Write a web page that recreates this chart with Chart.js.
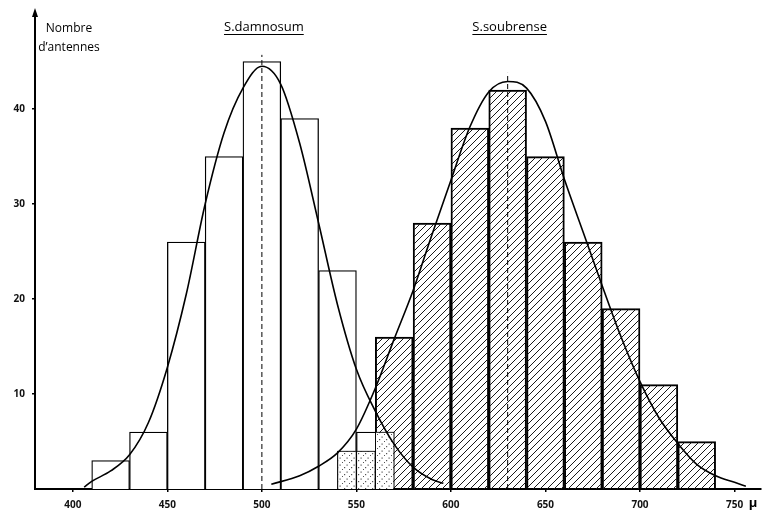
<!DOCTYPE html>
<html>
<head>
<meta charset="utf-8">
<script src="https://cdn.jsdelivr.net/npm/chart.js@4.4.1/dist/chart.umd.min.js"></script>
<style>
  html, body { margin: 0; padding: 0; background: #fff; }
  #zone { width: 767px; height: 515px; }
</style>
</head>
<body>
<div id="zone"><canvas id="histo"></canvas></div>
<script>
/* Longueur des antennes : S.damnosum et S.soubrense */
const damnosumCentres = [420, 440, 460, 480, 500, 520, 540, 560];
const damnosumEffectifs = [3, 6, 26, 35, 45, 39, 23, 6];
const soubrenseCentres = [550, 570, 590, 610, 630, 650, 670, 690, 710, 730];
const soubrenseEffectifs = [4, 16, 28, 38, 42, 35, 26, 19, 11, 5];
const largeurClasse = 20;

// courbes ajustées (lues point par point)
const courbeDamnosumX = [406, 410, 420, 430, 440, 450, 460, 470, 480, 490, 500, 510, 520, 530, 540, 550, 560, 570, 580, 590, 596];
const courbeDamnosumY = [0.2, 0.8, 1.9, 3.6, 7.0, 12.8, 20.5, 30.0, 37.5, 42.2, 44.5, 42.6, 36.4, 28.0, 19.4, 12.6, 8.2, 4.7, 2.3, 1.0, 0.6];
const courbeSoubrenseX = [505, 520, 530, 540, 550, 560, 570, 580, 590, 600, 610, 620, 630, 640, 650, 660, 670, 680, 690, 700, 710, 720, 730, 740, 750, 756];
const courbeSoubrenseY = [0.5, 1.4, 2.4, 3.8, 6.3, 10.6, 15.8, 20.9, 26.8, 32.5, 38.1, 41.8, 42.9, 42.2, 38.7, 32.6, 27.0, 21.4, 16.0, 11.3, 7.5, 4.8, 2.6, 1.4, 0.7, 0.3];

// moyennes (pointillés)
const moyennes = [500, 630];
const hauteursMoyennes = [45.7, 43.8];
const titres = ['S.damnosum', 'S.soubrense'];

const xGraduations = [400, 450, 500, 550, 600, 650, 700, 750];
const yGraduations = [10, 20, 30, 40];

function effectifEn(centres, effectifs, x) {
    const i = centres.findIndex(c => Math.abs(x - c) < largeurClasse / 2);
    return i < 0 ? 0 : effectifs[i];
}

// partie commune des deux histogrammes, par demi-classes
const communCentres = [];
const communEffectifs = [];
soubrenseCentres.forEach(c => {
    [c - largeurClasse / 4, c + largeurClasse / 4].forEach(x => {
        const n = Math.min(effectifEn(soubrenseCentres, soubrenseEffectifs, x),
                           effectifEn(damnosumCentres, damnosumEffectifs, x));
        if (n > 0) { communCentres.push(x); communEffectifs.push(n); }
    });
});

function points(xs, ys) {
    return xs.map((x, i) => ({ x: x, y: ys[i] }));
}

function motifHachures() {
    const c = document.createElement('canvas');
    c.width = 7; c.height = 7;
    const g = c.getContext('2d');
    g.strokeStyle = '#1a1a1a';
    g.lineWidth = 1;
    g.beginPath();
    g.moveTo(-1, 8); g.lineTo(8, -1);
    g.moveTo(-2, 2); g.lineTo(2, -2);
    g.moveTo(5, 9); g.lineTo(9, 5);
    g.stroke();
    return g.createPattern(c, 'repeat');
}

function motifPointille() {
    const c = document.createElement('canvas');
    c.width = 7; c.height = 7;
    const g = c.getContext('2d');
    g.fillStyle = '#fff';
    g.fillRect(0, 0, 7, 7);
    g.fillStyle = '#555';
    g.fillRect(1, 5, 1.2, 1.2);
    g.fillRect(3.5, 2.5, 1.2, 1.2);
    g.fillRect(6, 0, 1, 1);
    return g.createPattern(c, 'repeat');
}

const axeCache = {
    type: 'linear', min: 380, max: 764, display: false, offset: false,
    afterBuildTicks: axe => { axe.ticks = xGraduations.map(v => ({ value: v })); }
};

const policeGrad = { family: 'Open Sans', size: 10, weight: 'bold' };

const habillage = {
    id: 'habillage',
    afterDraw(chart) {
        const ctx = chart.ctx;
        const { left, top } = chart.chartArea;
        const sx = chart.scales.x;
        ctx.save();
        ctx.fillStyle = '#000';
        ctx.strokeStyle = '#000';

        // flèche de l'axe vertical
        ctx.beginPath();
        ctx.moveTo(left, top - 6);
        ctx.lineTo(left - 3, top + 3);
        ctx.lineTo(left + 3, top + 3);
        ctx.closePath();
        ctx.fill();

        ctx.font = '12px "Open Sans"';
        ctx.textAlign = 'center';
        ctx.textBaseline = 'alphabetic';
        ctx.fillText('Nombre', 69, 32);
        ctx.fillText('d\u2019antennes', 69, 51);

        // titres soulignés
        ctx.font = '13px "Open Sans"';
        ctx.lineWidth = 1;
        titres.forEach((t, i) => {
            const cx = sx.getPixelForValue(moyennes[i]) + 2;
            ctx.fillText(t, cx, 31);
            const w = ctx.measureText(t).width;
            ctx.beginPath();
            ctx.moveTo(cx - w / 2, 34.5);
            ctx.lineTo(cx + w / 2, 34.5);
            ctx.stroke();
        });

        ctx.font = 'bold 13px "Open Sans"';
        ctx.fillText('\u03bc', 753, 507);
        ctx.restore();
    }
};

new Chart(document.getElementById('histo').getContext('2d'), {
    type: 'bar',
    data: {
        datasets: [{
            label: 'S.damnosum',
            data: points(damnosumCentres, damnosumEffectifs),
            xAxisID: 'x',
            backgroundColor: '#fff',
            borderColor: '#000',
            borderWidth: 1.3,
            order: 5
        }, {
            label: 'S.soubrense',
            data: points(soubrenseCentres, soubrenseEffectifs),
            xAxisID: 'x2',
            backgroundColor: motifHachures(),
            borderColor: '#000',
            borderWidth: 1.3,
            order: 4
        }, {
            label: 'commun',
            data: points(communCentres, communEffectifs),
            xAxisID: 'x3',
            backgroundColor: motifPointille(),
            borderColor: '#000',
            borderWidth: 1,
            order: 3
        }, {
            type: 'line',
            data: points(courbeDamnosumX, courbeDamnosumY),
            xAxisID: 'x',
            borderColor: '#000',
            borderWidth: 1.6,
            pointRadius: 0,
            cubicInterpolationMode: 'monotone',
            fill: false,
            order: 2
        }, {
            type: 'line',
            data: points(courbeSoubrenseX, courbeSoubrenseY),
            xAxisID: 'x',
            borderColor: '#000',
            borderWidth: 1.6,
            pointRadius: 0,
            cubicInterpolationMode: 'monotone',
            fill: false,
            order: 2
        }].concat(moyennes.map((m, i) => ({
            type: 'line',
            data: [{ x: m, y: 0 }, { x: m, y: hauteursMoyennes[i] }],
            xAxisID: 'x',
            borderColor: '#000',
            borderWidth: 1,
            borderDash: [5, 3],
            pointRadius: 0,
            fill: false,
            order: 1
        })))
    },
    options: {
        responsive: true,
        maintainAspectRatio: false,
        animation: false,
        layout: { padding: { top: 14, right: 6, left: 0, bottom: 0 } },
        datasets: {
            bar: { barPercentage: 1, categoryPercentage: 1, grouped: false, borderSkipped: 'start' }
        },
        plugins: {
            legend: { display: false },
            tooltip: { enabled: false }
        },
        scales: {
            x: {
                type: 'linear', min: 380, max: 764, offset: false,
                border: { color: '#000', width: 2 },
                grid: { offset: false, drawOnChartArea: false, tickLength: 3, color: '#000', lineWidth: 1.5 },
                ticks: { font: policeGrad, color: '#111', padding: 7, maxRotation: 0 },
                afterBuildTicks: axe => { axe.ticks = xGraduations.map(v => ({ value: v })); },
                afterFit: axe => { axe.height = 26; }
            },
            x2: axeCache,
            x3: axeCache,
            y: {
                min: 0, max: 50,
                border: { color: '#000', width: 2 },
                grid: { drawOnChartArea: false, tickLength: 3, color: '#000', lineWidth: 1.5 },
                ticks: { font: policeGrad, color: '#111', padding: 7 },
                afterBuildTicks: axe => { axe.ticks = yGraduations.map(v => ({ value: v })); },
                afterFit: axe => { axe.width = 35; }
            }
        }
    },
    plugins: [habillage]
});
</script>
</body>
</html>
